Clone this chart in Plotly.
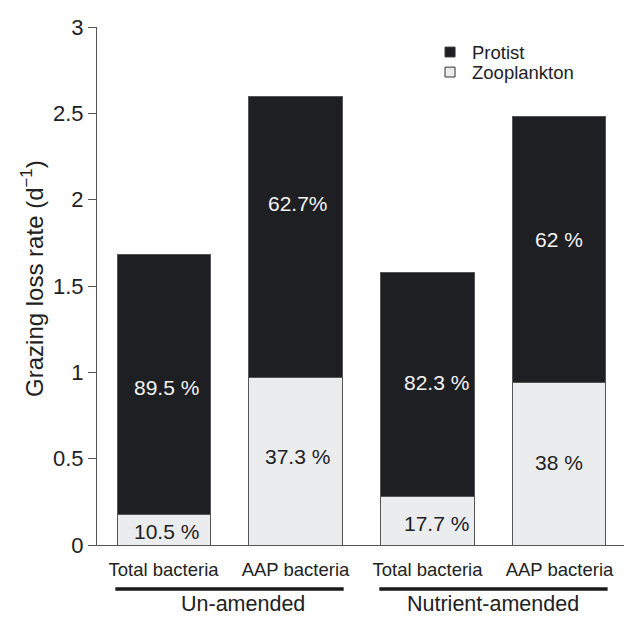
import plotly.graph_objects as go

# Grazing loss rates of bacteria, split by grazer type
categories = ["Total bacteria", "AAP bacteria", "Total bacteria", "AAP bacteria"]
treatments = ["Un-amended", "Nutrient-amended"]
total_rate = [1.68, 2.60, 1.58, 2.48]          # d^-1, whole bar height
zooplankton_pct = [10.5, 37.3, 17.7, 38.0]     # % of total grazing loss
protist_pct = [89.5, 62.7, 82.3, 62.0]
protist_labels = ["89.5 %", "62.7%", "82.3 %", "62 %"]
zooplankton_labels = ["10.5 %", "37.3 %", "17.7 %", "38 %"]
y_ticks = [0, 0.5, 1, 1.5, 2, 2.5, 3]
y_ticktext = ["0", "0.5", "1", "1.5", "2", "2.5", "3"]

zoo_rate = [t * p / 100 for t, p in zip(total_rate, zooplankton_pct)]
protist_rate = [t * p / 100 for t, p in zip(total_rate, protist_pct)]

# label placement inside the segments (data units) and small horizontal nudges
protist_label_y = [0.91, 1.98, 0.94, 1.77]
zoo_label_y = [0.081, 0.51, 0.127, 0.475]
label_xshift = [3, 2, 9, 0]
group_label_xshift = [13, 0]

FONT = "Liberation Sans, Arial, Helvetica, sans-serif"
PROTIST_COLOR = "#1e1f22"
ZOO_COLOR = "#ebecee"
EDGE = "#555555"
x = list(range(len(categories)))

fig = go.Figure()
fig.add_trace(go.Bar(
    x=x, y=zoo_rate, name="Zooplankton", width=0.705,
    marker=dict(color=ZOO_COLOR, line=dict(color=EDGE, width=1)),
))
fig.add_trace(go.Bar(
    x=x, y=protist_rate, name="Protist", width=0.705,
    marker=dict(color=PROTIST_COLOR, line=dict(color=EDGE, width=1)),
))

annotations = []
shapes = []
for i in x:
    annotations.append(dict(x=i, y=protist_label_y[i], text=protist_labels[i],
                            xref="x", yref="y", showarrow=False, xshift=label_xshift[i],
                            font=dict(family=FONT, size=21, color="#f4f4f4")))
    annotations.append(dict(x=i, y=zoo_label_y[i], text=zooplankton_labels[i],
                            xref="x", yref="y", showarrow=False, xshift=label_xshift[i],
                            font=dict(family=FONT, size=21, color="#222222")))

# treatment brackets under the category labels
for g, name in enumerate(treatments):
    centre = 2 * g + 0.5
    shapes.append(dict(type="line", xref="x", yref="paper",
                       x0=centre - 0.865, x1=centre + 0.865, y0=-0.085, y1=-0.085,
                       line=dict(color="#1a1a1a", width=3.5)))
    annotations.append(dict(x=centre, y=-0.113, xref="x", yref="paper", text=name,
                            showarrow=False, yanchor="middle", xshift=group_label_xshift[g],
                            font=dict(family=FONT, size=21.5, color="#222222")))

# y-axis title
annotations.append(dict(x=-0.123, y=0.514, xref="paper", yref="paper",
                        text="Grazing loss rate (d<sup>−1</sup>)", textangle=-90,
                        showarrow=False, xanchor="center", yanchor="middle",
                        font=dict(family=FONT, size=24, color="#222222")))

# legend: small squares with labels
legend_items = [("Protist", PROTIST_COLOR, 0.9517), ("Zooplankton", ZOO_COLOR, 0.913)]
for name, color, yp in legend_items:
    shapes.append(dict(type="rect", xref="paper", yref="paper",
                       x0=0.6604, x1=0.6794, y0=yp - 0.0095, y1=yp + 0.0095,
                       fillcolor=color, line=dict(color="#333333", width=1)))
    annotations.append(dict(x=0.7078, y=yp, xref="paper", yref="paper", text=name,
                            showarrow=False, xanchor="left", yanchor="middle",
                            font=dict(family=FONT, size=18.5, color="#222222")))

fig.update_layout(
    barmode="stack",
    width=624, height=618,
    margin=dict(l=97, r=0, t=27, b=73),
    paper_bgcolor="white", plot_bgcolor="white",
    font=dict(family=FONT, color="#222222"),
    showlegend=False,
    annotations=annotations,
    shapes=shapes,
    xaxis=dict(range=[-0.504, 3.489], tickmode="array", tickvals=x, ticktext=categories,
               showline=True, linecolor=EDGE, linewidth=1, ticks="",
               showgrid=False, zeroline=False, ticklabelstandoff=8,
               tickfont=dict(family=FONT, size=18.5, color="#222222")),
    yaxis=dict(range=[0, 3], tickmode="array", tickvals=y_ticks, ticktext=y_ticktext,
               showline=True, linecolor=EDGE, linewidth=1,
               ticks="outside", ticklen=8, tickcolor=EDGE,
               showgrid=False, zeroline=False,
               tickfont=dict(family=FONT, size=22, color="#222222")),
)

fig.write_html("out.html")
